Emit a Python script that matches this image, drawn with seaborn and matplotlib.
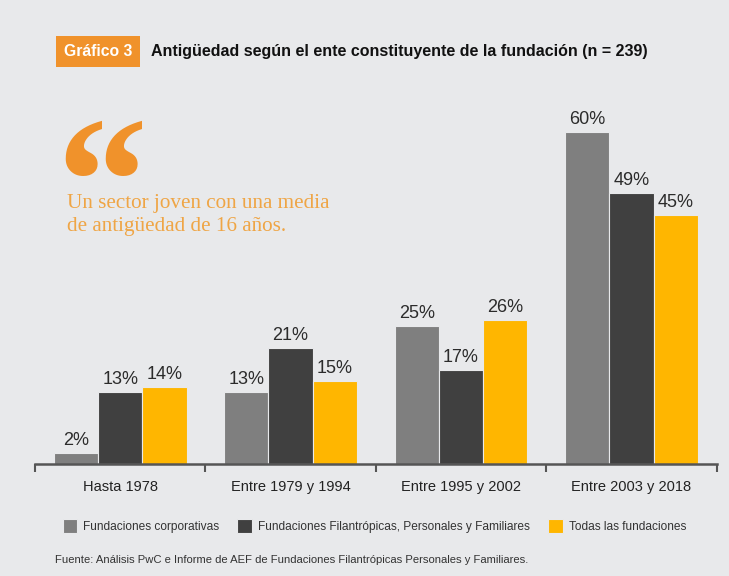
import pandas as pd
import matplotlib.pyplot as plt
import seaborn as sns

# data
periods = ['Hasta 1978', 'Entre 1979 y 1994', 'Entre 1995 y 2002', 'Entre 2003 y 2018']
series = ['Fundaciones corporativas',
          'Fundaciones Filantrópicas, Personales y Familiares',
          'Todas las fundaciones']
corporativas = [2, 13, 25, 60]
filantropicas = [13, 21, 17, 49]
todas = [14, 15, 26, 45]

colors = ['#7f7f7f', '#404040', '#ffb600']
bg = '#e8e9eb'
orange = '#f0922b'

df = pd.DataFrame({
    'periodo': periods * 3,
    'serie': [series[0]] * 4 + [series[1]] * 4 + [series[2]] * 4,
    'valor': corporativas + filantropicas + todas,
})

sns.set_style('white')
plt.rcParams['font.family'] = ['Liberation Sans', 'DejaVu Sans']

fig = plt.figure(figsize=(7.29, 5.76), dpi=100, facecolor=bg)
ax = fig.add_axes([0.048, 0.194, 0.935, 0.672], facecolor=bg)

sns.barplot(data=df, x='periodo', y='valor', hue='serie', order=periods,
            hue_order=series, palette=colors, width=0.78, saturation=1,
            edgecolor=bg, linewidth=0.8, ax=ax)

for cont in ax.containers:
    ax.bar_label(cont, fmt='%d%%', padding=3, fontsize=13, color='#2b2b2b')

ax.set_xlim(-0.5, 3.5)
ax.set_ylim(0, 70)
ax.set_xlabel('')
ax.set_ylabel('')
ax.set_yticks([])
for side in ['top', 'right', 'left']:
    ax.spines[side].set_visible(False)
ax.spines['bottom'].set_color('#555555')
ax.spines['bottom'].set_linewidth(1.8)

# group separators as minor ticks
ax.set_xticks([-0.5, 0.5, 1.5, 2.5, 3.5], minor=True)
ax.tick_params(axis='x', which='minor', bottom=True, length=6, width=1.5,
               color='#555555', direction='out')
ax.tick_params(axis='x', which='major', length=0, pad=11, labelsize=10.5, labelcolor='#222222')

sns.move_legend(ax, 'upper left', bbox_to_anchor=(0.071, 0.118), bbox_transform=fig.transFigure,
                ncol=3, frameon=False, title=None, fontsize=8.6, handlelength=1.25,
                handleheight=1.4, handletextpad=0.5, columnspacing=1.5)
for t in ax.get_legend().get_texts():
    t.set_color('#333333')

# title with orange tag
fig.text(0.088, 0.911, 'Gráfico 3', fontsize=11.3, fontweight='bold', color='white',
         va='center', ha='left',
         bbox=dict(boxstyle='square,pad=0.5', facecolor=orange, edgecolor='none'))
fig.text(0.207, 0.911, 'Antigüedad según el ente constituyente de la fundación (n = 239)',
         fontsize=11.5, fontweight='bold', color='#111111', va='center', ha='left')

# quote
fig.text(0.077, 0.656, '\u201c', fontsize=131, fontweight='bold', color=orange,
         family=['Liberation Serif', 'DejaVu Serif'], va='center', ha='left')
fig.text(0.092, 0.627, 'Un sector joven con una media\nde antigüedad de 16 años.',
         fontsize=15.2, color='#efa545', family=['Liberation Serif', 'DejaVu Serif'],
         va='center', ha='left', linespacing=1.3)

fig.text(0.075, 0.027, 'Fuente: Análisis PwC e Informe de AEF de Fundaciones Filantrópicas Personales y Familiares.',
         fontsize=8.1, color='#333333', va='center', ha='left')

fig.savefig('out.png', dpi=100, facecolor=bg)
